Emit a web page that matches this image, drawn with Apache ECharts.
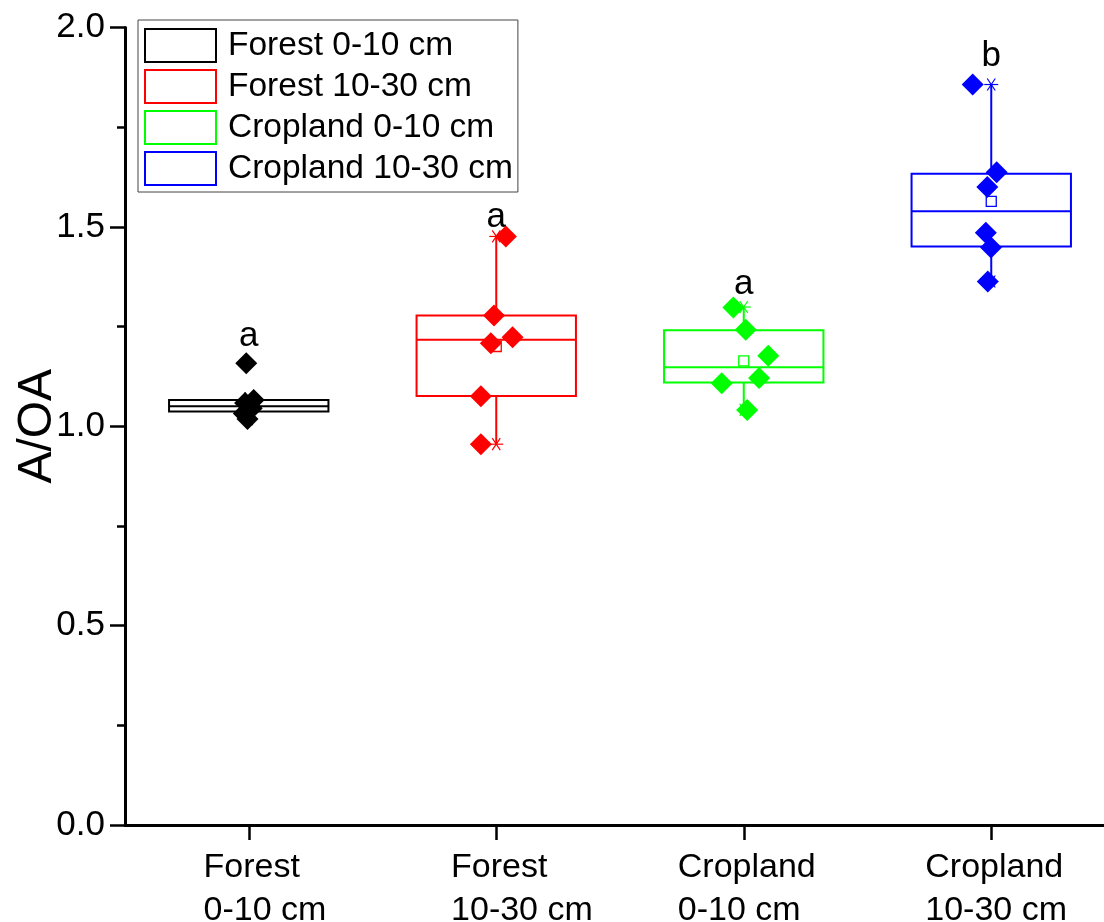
<!DOCTYPE html>
<html><head><meta charset="utf-8">
<script src="https://cdn.jsdelivr.net/npm/echarts@6/dist/echarts.min.js"></script>
<style>html,body{margin:0;padding:0;background:#fff}#c{width:1104px;height:922px}</style>
</head><body><div id="c"></div>
<script>
const categories = ['Forest\n0-10 cm', 'Forest\n10-30 cm', 'Cropland\n0-10 cm', 'Cropland\n10-30 cm'];
const seriesNames = ['Forest 0-10 cm', 'Forest 10-30 cm', 'Cropland 0-10 cm', 'Cropland 10-30 cm'];
const yTicks = [0, 0.5, 1.0, 1.5, 2.0];

// box statistics
const boxMin    = [1.018, 0.955, 1.041, 1.363];
const boxQ1     = [1.037, 1.076, 1.110, 1.451];
const boxMedian = [1.050, 1.217, 1.148, 1.539];
const boxQ3     = [1.066, 1.278, 1.241, 1.633];
const boxMax    = [1.070, 1.476, 1.299, 1.857];
const boxMean   = [1.063, 1.200, 1.164, 1.564];

// individual samples (diamonds)
const pointsForest010   = [1.158, 1.066, 1.058, 1.045, 1.032, 1.018];
const pointsForest1030  = [1.476, 1.278, 1.208, 1.223, 1.075, 0.955];
const pointsCrop010     = [1.298, 1.242, 1.177, 1.121, 1.108, 1.041];
const pointsCrop1030    = [1.857, 1.637, 1.600, 1.485, 1.448, 1.363];
// horizontal jitter of the samples (category units)
const jitterForest010   = [-0.010, 0.020, -0.015, 0.012, -0.020, -0.005];
const jitterForest1030  = [0.039, -0.009, -0.022, 0.066, -0.062, -0.062];
const jitterCrop010     = [-0.042, 0.008, 0.099, 0.062, -0.089, 0.014];
const jitterCrop1030    = [-0.075, 0.022, -0.016, -0.022, -0.001, -0.014];

// significance letters
const letters = ['a', 'a', 'a', 'b'];
const letterY = [1.182, 1.480, 1.312, 1.884];

const allPoints = [pointsForest010, pointsForest1030, pointsCrop010, pointsCrop1030];
const allJitter = [jitterForest010, jitterForest1030, jitterCrop010, jitterCrop1030];
const colors = ['#000000', '#ff0000', '#00ff00', '#0000ff'];
const FONT = 'Liberation Sans, Arial, sans-serif';
const HALF = 0.322;
const XLAB_SIZE = 34;

const measureCtx = document.createElement('canvas').getContext('2d');
function textWidth(t, size) {
  measureCtx.font = size + 'px ' + FONT;
  return measureCtx.measureText(t).width;
}

function asterisk(cx, cy, c) {
  const s = 7, d = 4, e = 6;
  const ls = {stroke: c, lineWidth: 1.2};
  return [
    {type: 'line', shape: {x1: cx - s, y1: cy, x2: cx + s, y2: cy}, style: ls},
    {type: 'line', shape: {x1: cx - d, y1: cy - e, x2: cx + d, y2: cy + e}, style: ls},
    {type: 'line', shape: {x1: cx - d, y1: cy + e, x2: cx + d, y2: cy - e}, style: ls}
  ];
}

function makeBox(i) {
  return {
    type: 'custom', name: seriesNames[i], z: 2, clip: false,
    itemStyle: {color: colors[i]},
    data: [[i + 1, boxMin[i], boxQ1[i], boxMedian[i], boxQ3[i], boxMax[i], boxMean[i], letterY[i]]],
    encode: {x: 0, y: [1, 2, 3, 4, 5]},
    renderItem: function (params, api) {
      const x = api.value(0);
      const c = colors[i];
      const pMin = api.coord([x, api.value(1)]);
      const pQ1 = api.coord([x, api.value(2)]);
      const pMed = api.coord([x, api.value(3)]);
      const pQ3 = api.coord([x, api.value(4)]);
      const pMax = api.coord([x, api.value(5)]);
      const pMean = api.coord([x, api.value(6)]);
      const pLet = api.coord([x, api.value(7)]);
      const pBase = api.coord([x, 0]);
      const left = api.coord([x - HALF, 0])[0];
      const right = api.coord([x + HALF, 0])[0];
      const cx = pMin[0];
      const ls = {stroke: c, lineWidth: 2, fill: 'none'};
      const label = categories[i];
      const firstLine = label.split('\n')[0];
      const lx = cx + 3 - textWidth(firstLine, XLAB_SIZE) / 2;
      const ch = [
        {type: 'rect', shape: {x: left, y: pQ3[1], width: right - left, height: pQ1[1] - pQ3[1]}, style: ls},
        {type: 'line', shape: {x1: left, y1: pMed[1], x2: right, y2: pMed[1]}, style: ls},
        {type: 'line', shape: {x1: cx, y1: pQ3[1], x2: cx, y2: pMax[1]}, style: ls},
        {type: 'line', shape: {x1: cx, y1: pQ1[1], x2: cx, y2: pMin[1]}, style: ls},
        {type: 'rect', shape: {x: pMean[0] - 5, y: pMean[1] - 5, width: 10, height: 10}, style: {stroke: c, lineWidth: 1.3, fill: 'none'}},
        {type: 'text', x: cx, y: pLet[1], style: {text: letters[i], fill: '#000', fontSize: 35, fontFamily: FONT, align: 'center', verticalAlign: 'bottom'}},
        {type: 'text', x: lx, y: pBase[1] + 21, style: {text: label, fill: '#000', fontSize: XLAB_SIZE, lineHeight: 43, fontFamily: FONT, align: 'left', verticalAlign: 'top'}}
      ].concat(asterisk(cx, pMin[1], c), asterisk(cx, pMax[1], c));
      return {type: 'group', children: ch};
    }
  };
}

function makePoints(i) {
  return {
    type: 'scatter', name: 'pts' + i, z: 3,
    symbol: 'diamond', symbolSize: 22,
    itemStyle: {color: colors[i], opacity: 1},
    data: allPoints[i].map((v, k) => [i + 1 + allJitter[i][k], v])
  };
}

const chart = echarts.init(document.getElementById('c'), null, {renderer: 'canvas'});
const series = [];
for (let i = 0; i < 4; i++) series.push(makeBox(i));
for (let i = 0; i < 4; i++) series.push(makePoints(i));

chart.setOption({
  animation: false,
  backgroundColor: '#fff',
  textStyle: {fontFamily: FONT},
  grid: {left: 125, top: 27.5, width: 990, height: 797.5, outerBoundsMode: 'none', containLabel: false},
  legend: {
    left: 138, top: 20, orient: 'vertical',
    padding: [8, 5, 6, 6], itemGap: 6, itemWidth: 71, itemHeight: 33,
    borderColor: '#444', borderWidth: 1, selectedMode: false,
    textStyle: {fontSize: 33.5, lineHeight: 27, color: '#000', fontFamily: FONT, padding: [8, 0, 0, 7]},
    data: seriesNames.map((n, i) => ({name: n, icon: 'rect', itemStyle: {color: '#fff', borderColor: colors[i], borderWidth: 2}}))
  },
  xAxis: {
    type: 'value', min: 0.5, max: 4.5,
    splitLine: {show: false},
    axisLine: {show: true, lineStyle: {color: '#000', width: 3}},
    axisTick: {show: true, customValues: [1, 2, 3, 4], length: 15, lineStyle: {color: '#000', width: 2.5}},
    axisLabel: {show: false, customValues: [1, 2, 3, 4]}
  },
  yAxis: {
    type: 'value', min: yTicks[0], max: yTicks[yTicks.length - 1], interval: 0.5,
    name: 'A/OA', nameLocation: 'middle', nameGap: 63, nameMoveOverlap: false,
    nameTextStyle: {fontSize: 48, color: '#000', fontFamily: FONT},
    splitLine: {show: false},
    axisLine: {show: true, lineStyle: {color: '#000', width: 3}},
    axisTick: {show: true, length: 15, lineStyle: {color: '#000', width: 2.5}},
    minorTick: {show: true, splitNumber: 2, length: 8, lineStyle: {color: '#000', width: 2.5}},
    axisLabel: {margin: 20, fontSize: 35, color: '#000', fontFamily: FONT, formatter: v => v.toFixed(1)}
  },
  series: series
});
</script>
</body></html>
